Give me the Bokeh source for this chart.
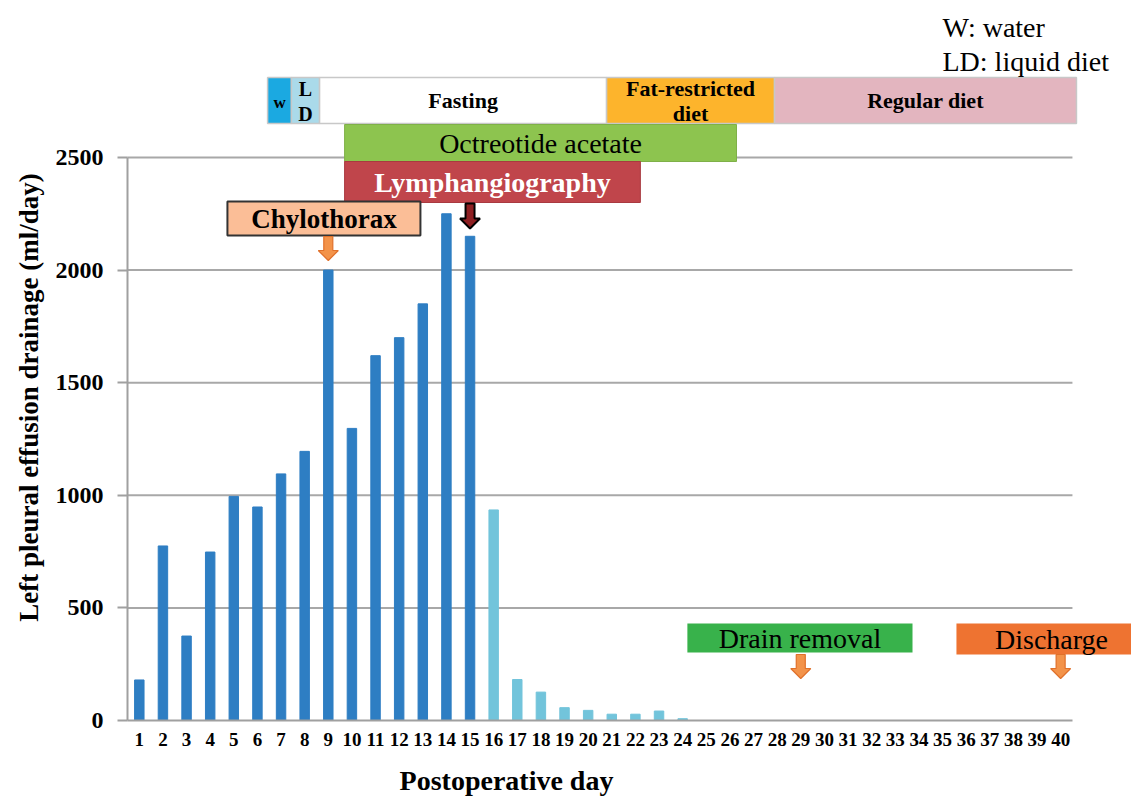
import numpy as np
from bokeh.plotting import figure
from bokeh.models import Range1d, FixedTicker, ColumnDataSource
from bokeh.core.properties import value
from bokeh.embed import file_html
from bokeh.resources import INLINE

# ---------------- data ----------------
days = list(range(1, 41))
drainage = [180, 775, 375, 748, 995, 948, 1095, 1195, 2000, 1297,
            1620, 1700, 1850, 2250, 2150, 935, 182, 126, 57, 45,
            28, 28, 42, 8]
bar_days = days[:len(drainage)]
y_ticks = [0, 500, 1000, 1500, 2000, 2500]

diet_labels = ["w", "L\nD", "Fasting", "Fat-restricted\ndiet", "Regular diet"]
diet_start = [6.43, 7.44, 8.63, 20.78, 27.89]
diet_end = [7.44, 8.63, 20.78, 27.89, 40.67]

treat_labels = ["Octreotide acetate", "Lymphangiography"]
treat_start = [9.69, 9.69]
treat_end = [26.28, 22.21]

event_labels = ["Chylothorax", "Drain removal", "Discharge"]
event_box_start = [4.73, 24.20, 35.59]
event_box_end = [12.90, 33.73, 43.3]
event_day = [9, 29, 40]
lymph_day = 15

x_title = "Postoperative day"
y_title = "Left pleural effusion drainage (ml/day)"

# ---------------- layout helpers ----------------
W, H = 1131, 797
AX_L, AX_B = 127, 720          # pixel position of the axes' origin
PXX = 1004 / 42.5              # pixels per day
PXY = 720 / 3197.0             # pixels per ml/day
X0 = 0.5 - AX_L / PXX
X1 = 0.5 + (W - AX_L) / PXX
Y0 = -(H - AX_B) / PXY
Y1 = AX_B / PXY


def dx(px):
    return 0.5 + (px - AX_L) / PXX


def dy(py):
    return (AX_B - py) / PXY


SERIF = "Liberation Serif"

p = figure(width=W, height=H, x_range=Range1d(X0, X1), y_range=Range1d(Y0, Y1),
           output_backend="svg", toolbar_location=None,
           min_border=0, x_axis_location=None, y_axis_location=None)
p.outline_line_color = None
p.xgrid.visible = False
p.ygrid.visible = False
p.background_fill_color = "white"
p.border_fill_color = "white"

from bokeh.models import LinearAxis

yax = LinearAxis(fixed_location=0.5, ticker=FixedTicker(ticks=y_ticks), bounds=(0, 2500))
xax = LinearAxis(fixed_location=0, ticker=FixedTicker(ticks=days), bounds=(0.5, 40.5))

# gridlines (only over the category span)
p.segment(x0=[0.5] * 5, x1=[40.5] * 5, y0=y_ticks[1:], y1=y_ticks[1:],
          line_color="#A8A8A8", line_width=2)

# bars
colors = ["#2E7EC3" if d <= 15 else "#72C4DB" for d in bar_days]
src = ColumnDataSource(dict(x=bar_days, top=drainage, color=colors))
p.vbar(x="x", top="top", bottom=0, width=0.4, color="color", source=src)

# axes
yax.axis_line_color = "#A0A0A0"
yax.axis_line_width = 2
yax.major_tick_line_color = "#A0A0A0"
yax.major_tick_line_width = 2
yax.major_tick_out = 10
yax.major_tick_in = 0
yax.minor_tick_line_color = None
yax.major_label_standoff = 14
yax.major_label_text_font = SERIF
yax.major_label_text_font_style = "bold"
yax.major_label_text_font_size = "24px"
yax.major_label_text_color = "black"
p.add_layout(yax, "left")

xax.axis_line_color = "#A0A0A0"
xax.axis_line_width = 2
xax.major_tick_line_color = None
xax.minor_tick_line_color = None
xax.major_tick_out = 0
xax.major_tick_in = 0
xax.major_label_standoff = 12
xax.major_label_text_font = SERIF
xax.major_label_text_font_style = "bold"
xax.major_label_text_font_size = "19px"
xax.major_label_text_color = "black"
p.add_layout(xax, "below")

# axis titles
p.text(x=[dx(28)], y=[dy(397)], text=[y_title], angle=np.pi / 2,
       text_font=value(SERIF), text_font_style="bold", text_font_size="27px",
       text_align="center", text_baseline="middle", text_color="black")
p.text(x=[dx(506)], y=[dy(780)], text=[x_title],
       text_font=value(SERIF), text_font_style="bold", text_font_size="28px",
       text_align="center", text_baseline="middle", text_color="black")

# diet bar
diet_colors = ["#1BA9E1", "#AADAEA", "#FFFFFF", "#FDB42C", "#E3B5BF"]
p.quad(left=diet_start, right=diet_end, top=dy(77), bottom=dy(123),
       fill_color=diet_colors, line_color="#C8C8C8", line_width=1.5)
dc = [(a + b) / 2 for a, b in zip(diet_start, diet_end)]
p.text(x=[dc[0]], y=[dy(102)], text=[diet_labels[0]], text_font=value(SERIF),
       text_font_style="bold", text_font_size="17px", text_align="center",
       text_baseline="middle", text_color="black")
ld = diet_labels[1].split("\n")
p.text(x=[dc[1], dc[1]], y=[dy(88), dy(113)], text=ld, text_font=value(SERIF),
       text_font_style="bold", text_font_size="20px", text_align="center",
       text_baseline="middle", text_color="black")
fr = diet_labels[3].split("\n")
p.text(x=[dc[2], dc[3], dc[3], dc[4]], y=[dy(100), dy(88), dy(113), dy(100)],
       text=[diet_labels[2], fr[0], fr[1], diet_labels[4]], text_font=value(SERIF),
       text_font_style="bold", text_font_size="22px", text_align="center",
       text_baseline="middle", text_color="black")

# treatments
p.quad(left=[treat_start[0]], right=[treat_end[0]], top=dy(124), bottom=dy(161),
       fill_color="#8DC44F", line_color="#7FB048", line_width=1)
p.text(x=[(treat_start[0] + treat_end[0]) / 2], y=[dy(143)], text=[treat_labels[0]],
       text_font=value(SERIF), text_font_size="28px", text_align="center",
       text_baseline="middle", text_color="black")
p.quad(left=[treat_start[1]], right=[treat_end[1]], top=dy(161), bottom=dy(202),
       fill_color="#C0454B", line_color="#A93A40", line_width=1)
p.text(x=[(treat_start[1] + treat_end[1]) / 2], y=[dy(182)], text=[treat_labels[1]],
       text_font=value(SERIF), text_font_style="bold", text_font_size="28px",
       text_align="center", text_baseline="middle", text_color="white")

# event boxes
p.quad(left=[event_box_start[0]], right=[event_box_end[0]], top=dy(201), bottom=dy(235),
       fill_color="#FBBE97", line_color="#333333", line_width=2)
p.text(x=[(event_box_start[0] + event_box_end[0]) / 2], y=[dy(218)], text=[event_labels[0]],
       text_font=value(SERIF), text_font_style="bold", text_font_size="27px",
       text_align="center", text_baseline="middle", text_color="black")
p.quad(left=[event_box_start[1]], right=[event_box_end[1]], top=dy(623), bottom=dy(652),
       fill_color="#38B24B", line_color=None)
p.text(x=[(event_box_start[1] + event_box_end[1]) / 2], y=[dy(638)], text=[event_labels[1]],
       text_font=value(SERIF), text_font_size="28px", text_align="center",
       text_baseline="middle", text_color="black")
p.quad(left=[event_box_start[2]], right=[event_box_end[2]], top=dy(623), bottom=dy(654),
       fill_color="#EE7331", line_color=None)
p.text(x=[dx(1051)], y=[dy(639)], text=[event_labels[2]],
       text_font=value(SERIF), text_font_size="28px", text_align="center",
       text_baseline="middle", text_color="black")


# arrows
def down_arrow(xd, top_py, bot_py, shaft=4.5, head=10, head_len=10):
    offs = [-shaft, shaft, shaft, head, 0, -head, -shaft]
    pys = [top_py, top_py, bot_py - head_len, bot_py - head_len, bot_py,
           bot_py - head_len, bot_py - head_len]
    return [xd + o / PXX for o in offs], [dy(v) for v in pys]


axs, ays = [], []
for d, (t, b) in zip(event_day, [(236, 260), (654, 678), (654, 678)]):
    xs, ys = down_arrow(d, t, b)
    axs.append(xs)
    ays.append(ys)
p.patches(axs, ays, fill_color="#F3934A", line_color="#E0702A", line_width=1.2)
xs, ys = down_arrow(lymph_day, 203, 228)
p.patch(xs, ys, fill_color="#8E1F22", line_color="black", line_width=2)

# legend notes
p.text(x=[dx(942), dx(942)], y=[dy(27), dy(61)], text=["W: water", "LD: liquid  diet"],
       text_font=value(SERIF), text_font_size="28px", text_align="left",
       text_baseline="alphabetic", text_color="black")

open("out.html", "w").write(file_html(p, INLINE))
